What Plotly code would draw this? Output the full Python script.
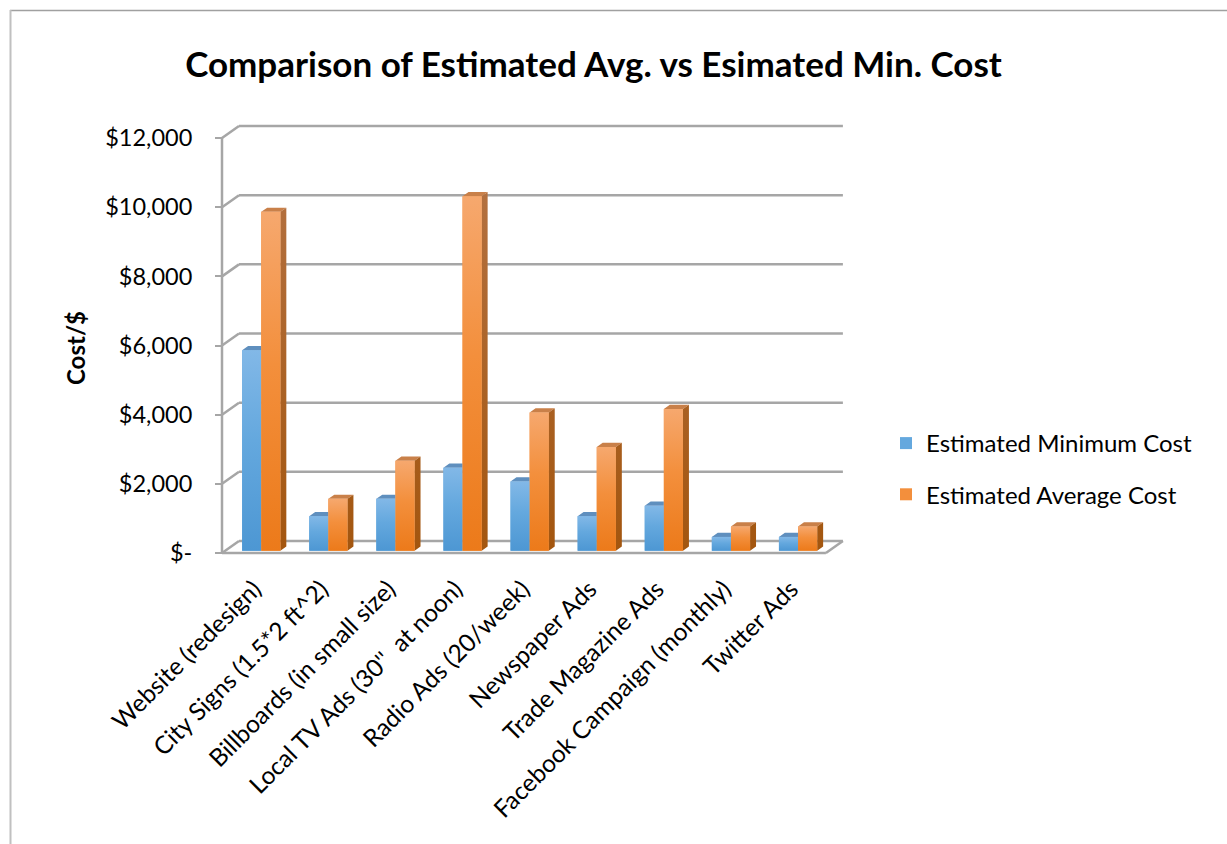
import plotly.graph_objects as go

# ---- data -------------------------------------------------------------
categories = [
    "Website (redesign)",
    "City Signs (1.5*2 ft^2)",
    "Billboards (in small size)",
    "Local TV Ads (30''  at noon)",
    "Radio Ads (20/week)",
    "Newspaper Ads",
    "Trade Magazine Ads",
    "Facebook Campaign (monthly)",
    "Twitter Ads",
]
min_cost = [5800, 1000, 1500, 2400, 2000, 1000, 1300, 400, 400]
avg_cost = [9800, 1500, 2600, 10250, 4000, 3000, 4100, 700, 700]
series_names = ["Estimated Minimum Cost", "Estimated Average Cost"]
y_ticks = [0, 2000, 4000, 6000, 8000, 10000, 12000]
y_ticklabels = ["$-", "$2,000", "$4,000", "$6,000", "$8,000", "$10,000", "$12,000"]

# ---- canvas / pseudo-3D geometry ---------------------------------------
W, H = 1227, 844
PL, PR, PT, PB = 212, 850, 120, 560          # plot area in px
AX_X0, AX_Y0 = 222, 553                      # front corner of the floor
PX_PER_CAT = 67.1
PX_PER_VAL = 34.58 / 1000

x_range = [(PL - AX_X0) / PX_PER_CAT - 0.5, (PR - AX_X0) / PX_PER_CAT - 0.5]
y_range = [(AX_Y0 - PB) / PX_PER_VAL, (AX_Y0 - PT) / PX_PER_VAL]

WALL_DX = 17 / PX_PER_CAT        # depth of the chart box in x units
WALL_DY = 12 / PX_PER_VAL        # depth of the chart box in value units
BAR_W = 0.285
BAR_OFF = [-0.2, 0.085]          # left edge of each series' bar relative to category
BAR_BASE = 0.19 * WALL_DY        # bars stand slightly behind the front edge
BAR_DX = 0.35 * WALL_DX
BAR_DY = 0.35 * WALL_DY


def paper_x(px):
    return (px - PL) / (PR - PL)


def paper_y(py):
    return (PB - py) / (PB - PT)


FONT = "Lato, 'Open Sans', sans-serif"
GRID = "#A6A6A6"

front_cols = [("#4D97D3", "#82B8E7"), ("#EC7A1A", "#F6A86E")]
mid_cols = ["#64A8DE", "#F38F3C"]
top_cols = ["#5F8FBE", "#C98049"]
side_col = "#AD6127"

fig = go.Figure()

# legend-bearing bars (front faces)
for s, vals in enumerate([min_cost, avg_cost]):
    fig.add_trace(go.Bar(
        x=[i + BAR_OFF[s] + BAR_W / 2 for i in range(len(categories))],
        y=vals,
        base=BAR_BASE,
        width=BAR_W,
        name=series_names[s],
        legendgroup=series_names[s],
        marker=dict(color=mid_cols[s], line=dict(width=0)),
        hoverinfo="skip",
    ))

for s, vals in enumerate([min_cost, avg_cost]):
    # top faces
    tx, ty = [], []
    for i, v in enumerate(vals):
        xl = i + BAR_OFF[s]
        xr = xl + BAR_W
        yt = BAR_BASE + v
        if s == 0:
            tx += [xl, xr, xr, xl + BAR_DX, xl, None]
        else:
            tx += [xl, xr, xr + BAR_DX, xl + BAR_DX, xl, None]
        ty += [yt, yt, yt + BAR_DY, yt + BAR_DY, yt, None]
    fig.add_trace(go.Scatter(x=tx, y=ty, fill="toself", mode="lines",
                             line=dict(width=0), fillcolor=top_cols[s],
                             showlegend=False, hoverinfo="skip"))
    # side faces of the rear (taller) series
    if s == 1:
        sx, sy = [], []
        for i, v in enumerate(vals):
            xr = i + BAR_OFF[s] + BAR_W
            yt = BAR_BASE + v
            sx += [xr, xr + BAR_DX, xr + BAR_DX, xr, xr, None]
            sy += [BAR_BASE, BAR_BASE + BAR_DY, yt + BAR_DY, yt, BAR_BASE, None]
        fig.add_trace(go.Scatter(
            x=sx, y=sy, fill="toself", mode="lines", line=dict(width=0),
            fillcolor=side_col, showlegend=False, hoverinfo="skip",
            fillgradient=dict(type="vertical",
                              colorscale=[[0, "#A3560F"], [1, "#B3703F"]]),
        ))
    # front faces with a vertical light-to-dark gradient
    for i, v in enumerate(vals):
        xl = i + BAR_OFF[s]
        xr = xl + BAR_W
        yb, yt = BAR_BASE, BAR_BASE + v
        fig.add_trace(go.Scatter(
            x=[xl, xr, xr, xl, xl], y=[yb, yb, yt, yt, yb],
            fill="toself", mode="lines", line=dict(width=0),
            fillgradient=dict(type="vertical", start=yb, stop=yt,
                              colorscale=[[0, front_cols[s][0]], [0.55, mid_cols[s]],
                                          [1, front_cols[s][1]]]),
            showlegend=False, hoverinfo="skip",
        ))

# chart box: back wall gridlines, side-wall diagonals, front axis and floor
shapes = []
line = dict(color=GRID, width=2.5)
x_left, x_right = -0.5, len(categories) - 0.5
for v in y_ticks:
    shapes.append(dict(type="line", xref="x", yref="y", layer="below",
                       x0=x_left + WALL_DX, x1=x_right + WALL_DX,
                       y0=v + WALL_DY, y1=v + WALL_DY, line=line))
    shapes.append(dict(type="line", xref="x", yref="y", layer="below",
                       x0=x_left, x1=x_left + WALL_DX,
                       y0=v, y1=v + WALL_DY, line=line))
shapes.append(dict(type="line", xref="x", yref="y", layer="below",
                   x0=x_left, x1=x_left, y0=0, y1=y_ticks[-1], line=line))
shapes.append(dict(type="line", xref="x", yref="y", layer="below",
                   x0=x_left, x1=x_right, y0=0, y1=0, line=line))
shapes.append(dict(type="line", xref="x", yref="y", layer="below",
                   x0=x_right, x1=x_right + WALL_DX, y0=0, y1=WALL_DY, line=line))
# outer chart frame
shapes.append(dict(type="line", xref="paper", yref="paper",
                   x0=paper_x(10), x1=paper_x(W + 5), y0=paper_y(10.5), y1=paper_y(10.5),
                   line=dict(color="#A0A0A0", width=1.5)))
shapes.append(dict(type="line", xref="paper", yref="paper",
                   x0=paper_x(10.5), x1=paper_x(10.5), y0=paper_y(10), y1=paper_y(H + 5),
                   line=dict(color="#C0C0C0", width=2)))

fig.update_layout(
    width=W, height=H,
    margin=dict(l=PL, r=W - PR, t=PT, b=H - PB, autoexpand=False),
    paper_bgcolor="white", plot_bgcolor="rgba(0,0,0,0)",
    barmode="overlay",
    showlegend=True,
    title=dict(text="<b>Comparison of Estimated Avg. vs Esimated Min. Cost</b>",
               x=593.5 / W, xanchor="center", xref="container",
               y=1 - 65 / H, yanchor="middle", yref="container",
               font=dict(family=FONT, size=35, color="black")),
    legend=dict(x=paper_x(886), y=paper_y(421), xanchor="left", yanchor="top",
                traceorder="grouped", tracegroupgap=17,
                font=dict(family=FONT, size=24, color="black"),
                bgcolor="rgba(0,0,0,0)"),
    xaxis=dict(range=x_range, showgrid=False, zeroline=False, showline=False,
               tickmode="array",
               tickvals=[i - 0.02 for i in range(len(categories))],
               ticktext=categories, tickangle=-45, ticks="",
               ticklabelstandoff=9,
               tickfont=dict(family=FONT, size=24.5, color="black")),
    yaxis=dict(range=y_range, showgrid=False, zeroline=False, showline=False,
               anchor="free", position=paper_x(AX_X0),
               tickmode="array", tickvals=y_ticks, ticktext=y_ticklabels,
               ticks="outside", ticklen=7, tickwidth=2, tickcolor=GRID,
               ticklabelstandoff=18,
               tickfont=dict(family=FONT, size=23.5, color="black")),
    shapes=shapes,
    annotations=[dict(text="<b>Cost/$</b>", textangle=-90, showarrow=False,
                      xref="paper", yref="paper", x=paper_x(75), y=paper_y(348),
                      xanchor="center", yanchor="middle",
                      font=dict(family=FONT, size=24, color="black"))],
)

fig.write_html("out.html")
